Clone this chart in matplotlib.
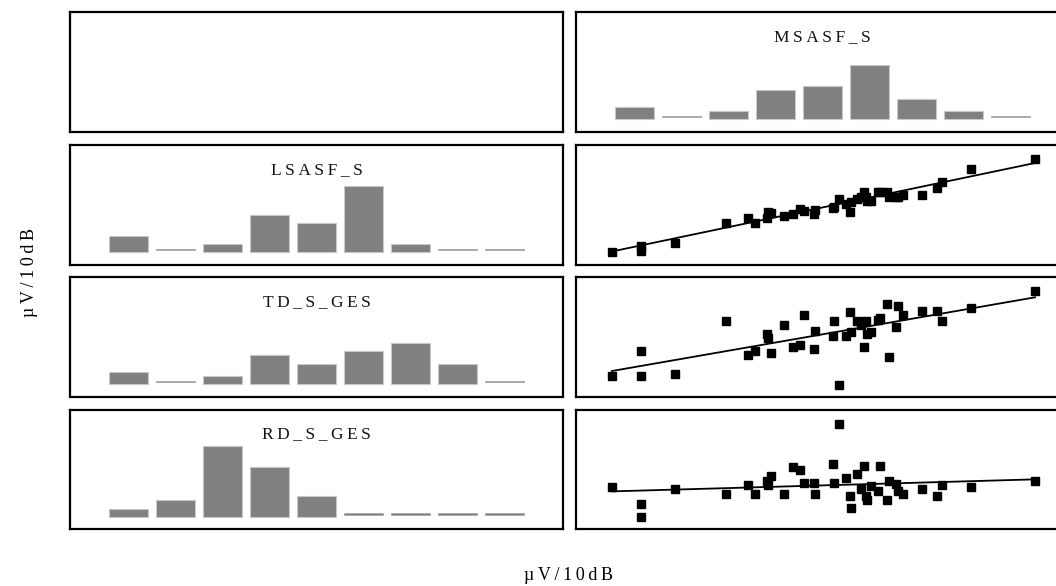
import numpy as np
import matplotlib
matplotlib.use("Agg")
from matplotlib import pyplot as plt

plt.rcParams['font.family'] = ['Liberation Serif', 'DejaVu Serif']

# histogram counts (9 bins, 40 cases each)
msasf_counts = [3, 0, 2, 7, 8, 13, 5, 2, 0]
lsasf_counts = [4, 0, 2, 9, 7, 16, 2, 0, 0]
td_counts = [3, 0, 2, 7, 5, 8, 10, 5, 0]
rd_counts = [2, 4, 17, 12, 5, 0, 0, 0, 0]

# scatter data, x = MSASF_S (µV/10dB)
msasf_x = [3.6, 6.5, 6.5, 9.9, 15.0, 17.2, 17.9, 19.1, 19.2, 19.5,
           20.8, 21.7, 22.4, 22.8, 23.8, 23.9, 25.7, 25.8, 26.3, 27.0,
           27.4, 27.5, 28.1, 28.5, 28.8, 29.0, 29.1, 29.5, 30.2, 30.4,
           31.1, 31.3, 32.0, 32.2, 32.7, 34.6, 36.1, 36.6, 39.5, 45.9]
lsasf_y = [1.3, 1.9, 1.4, 2.2, 4.2, 4.7, 4.2, 4.7, 5.3, 5.2,
           4.9, 5.1, 5.6, 5.4, 5.1, 5.5, 5.7, 5.8, 6.6, 6.1,
           5.3, 6.3, 6.6, 6.8, 7.3, 6.8, 6.4, 6.4, 7.3, 7.3,
           7.3, 6.8, 6.8, 6.8, 7.0, 7.0, 7.7, 8.3, 9.6, 10.6]
td_y = [2.1, 4.6, 2.1, 2.3, 7.6, 4.2, 4.6, 6.3, 5.9, 4.4,
        7.2, 5.0, 5.2, 8.2, 4.8, 6.6, 6.1, 7.6, 1.2, 6.1,
        8.5, 6.5, 7.6, 7.2, 5.0, 7.6, 6.3, 6.5, 7.7, 7.9,
        9.3, 4.0, 7.0, 9.1, 8.2, 8.6, 8.6, 7.6, 8.9, 10.6]
rd_y = [4.25, 2.5, 1.2, 4.0, 3.55, 4.45, 3.55, 4.85, 4.45, 5.35,
        3.55, 6.2, 5.9, 4.6, 4.6, 3.55, 6.5, 4.6, 10.55, 5.1,
        3.35, 2.1, 5.5, 4.05, 6.35, 3.35, 2.9, 4.3, 3.85, 6.35,
        2.9, 4.85, 4.5, 3.85, 3.55, 4.0, 3.35, 4.45, 4.25, 4.85]

titles = ['MSASF_S', 'LSASF_S', 'TD_S_GES', 'RD_S_GES']
axis_label = 'µV/10dB'

W, H = 1056, 586
fig = plt.figure(figsize=(W / 100, H / 100), dpi=100)

col_left = [70, 576]
col_w = 493
row_top = [12, 145, 277, 409.5]
row_h = 119.5


def make_ax(row, col):
    x0 = col_left[col] / W
    y0 = 1 - (row_top[row] + row_h) / H
    ax = fig.add_axes([x0, y0, col_w / W, row_h / H])
    ax.set_xticks([])
    ax.set_yticks([])
    for sp in ax.spines.values():
        sp.set_linewidth(1.6)
        sp.set_color('black')
    return ax


def spaced(s):
    return '\u2009'.join(s)


def draw_hist(ax, counts, title):
    counts = np.array(counts, dtype=float)
    pos = np.arange(len(counts))
    nz = counts > 0
    ax.bar(pos[nz], counts[nz], width=0.85, color='#808080',
           edgecolor='#c8c8c8', linewidth=0.8)
    # empty bins show as a thin grey line
    ax.bar(pos[~nz], 0.3, bottom=0.55, width=0.82, color='#808080',
           edgecolor='#a8a8a8', linewidth=0.6)
    ax.set_xlim(-1.245, 9.245)
    ax.set_ylim(-2.87, 25.7)
    ax.text(0.5, 0.79, spaced(title), transform=ax.transAxes,
            ha='center', va='center', fontsize=12.5, color='#111111')


def draw_scatter(ax, x, y):
    x = np.array(x)
    y = np.array(y)
    k, b = np.polyfit(x, y, 1)
    xs = np.array([x.min(), x.max()])
    ax.plot(xs, k * xs + b, color='black', linewidth=1.3, zorder=2)
    ax.plot(x, y, 's', color='black', markersize=5.5, zorder=3)
    ax.set_xlim(0, 49.3)
    ax.set_ylim(0, 12)


# first row
make_ax(0, 0)
draw_hist(make_ax(0, 1), msasf_counts, titles[0])

rows_y = [lsasf_y, td_y, rd_y]
rows_counts = [lsasf_counts, td_counts, rd_counts]
for i in range(3):
    draw_hist(make_ax(i + 1, 0), rows_counts[i], titles[i + 1])
    draw_scatter(make_ax(i + 1, 1), msasf_x, rows_y[i])

fig.text(30 / W, 1 - 273 / H, spaced(axis_label), rotation=90,
         ha='center', va='center', fontsize=13)
fig.text(568 / W, 1 - 575 / H, spaced(axis_label),
         ha='center', va='center', fontsize=13)

fig.savefig('out.png', dpi=100)
